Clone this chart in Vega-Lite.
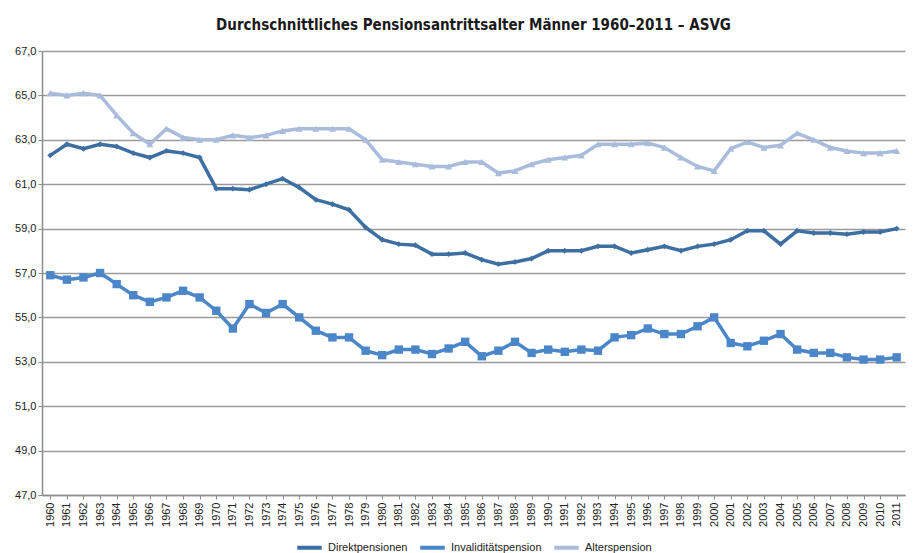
{
  "$schema": "https://vega.github.io/schema/vega-lite/v6.json",
  "autosize": {"type": "none"},
  "width": 863,
  "height": 444,
  "padding": {"left": 42, "top": 51, "right": 12, "bottom": 58},
  "background": "white",
  "title": {
    "text": "Durchschnittliches Pensionsantrittsalter Männer 1960–2011 – ASVG",
    "font": "DejaVu Sans Condensed",
    "fontSize": 15,
    "fontWeight": "bold",
    "color": "#1a1a1a",
    "anchor": "middle",
    "offset": 12
  },
  "data": {"values": [
    {"year": "1960", "series": "Direktpensionen", "value": 62.3},
    {"year": "1961", "series": "Direktpensionen", "value": 62.8},
    {"year": "1962", "series": "Direktpensionen", "value": 62.6},
    {"year": "1963", "series": "Direktpensionen", "value": 62.8},
    {"year": "1964", "series": "Direktpensionen", "value": 62.7},
    {"year": "1965", "series": "Direktpensionen", "value": 62.4},
    {"year": "1966", "series": "Direktpensionen", "value": 62.2},
    {"year": "1967", "series": "Direktpensionen", "value": 62.5},
    {"year": "1968", "series": "Direktpensionen", "value": 62.4},
    {"year": "1969", "series": "Direktpensionen", "value": 62.2},
    {"year": "1970", "series": "Direktpensionen", "value": 60.8},
    {"year": "1971", "series": "Direktpensionen", "value": 60.8},
    {"year": "1972", "series": "Direktpensionen", "value": 60.75},
    {"year": "1973", "series": "Direktpensionen", "value": 61.0},
    {"year": "1974", "series": "Direktpensionen", "value": 61.25},
    {"year": "1975", "series": "Direktpensionen", "value": 60.85},
    {"year": "1976", "series": "Direktpensionen", "value": 60.3},
    {"year": "1977", "series": "Direktpensionen", "value": 60.1},
    {"year": "1978", "series": "Direktpensionen", "value": 59.85},
    {"year": "1979", "series": "Direktpensionen", "value": 59.05},
    {"year": "1980", "series": "Direktpensionen", "value": 58.5},
    {"year": "1981", "series": "Direktpensionen", "value": 58.3},
    {"year": "1982", "series": "Direktpensionen", "value": 58.25},
    {"year": "1983", "series": "Direktpensionen", "value": 57.85},
    {"year": "1984", "series": "Direktpensionen", "value": 57.85},
    {"year": "1985", "series": "Direktpensionen", "value": 57.9},
    {"year": "1986", "series": "Direktpensionen", "value": 57.6},
    {"year": "1987", "series": "Direktpensionen", "value": 57.4},
    {"year": "1988", "series": "Direktpensionen", "value": 57.5},
    {"year": "1989", "series": "Direktpensionen", "value": 57.65},
    {"year": "1990", "series": "Direktpensionen", "value": 58.0},
    {"year": "1991", "series": "Direktpensionen", "value": 58.0},
    {"year": "1992", "series": "Direktpensionen", "value": 58.0},
    {"year": "1993", "series": "Direktpensionen", "value": 58.2},
    {"year": "1994", "series": "Direktpensionen", "value": 58.2},
    {"year": "1995", "series": "Direktpensionen", "value": 57.9},
    {"year": "1996", "series": "Direktpensionen", "value": 58.05},
    {"year": "1997", "series": "Direktpensionen", "value": 58.2},
    {"year": "1998", "series": "Direktpensionen", "value": 58.0},
    {"year": "1999", "series": "Direktpensionen", "value": 58.2},
    {"year": "2000", "series": "Direktpensionen", "value": 58.3},
    {"year": "2001", "series": "Direktpensionen", "value": 58.5},
    {"year": "2002", "series": "Direktpensionen", "value": 58.9},
    {"year": "2003", "series": "Direktpensionen", "value": 58.9},
    {"year": "2004", "series": "Direktpensionen", "value": 58.3},
    {"year": "2005", "series": "Direktpensionen", "value": 58.9},
    {"year": "2006", "series": "Direktpensionen", "value": 58.8},
    {"year": "2007", "series": "Direktpensionen", "value": 58.8},
    {"year": "2008", "series": "Direktpensionen", "value": 58.75},
    {"year": "2009", "series": "Direktpensionen", "value": 58.85},
    {"year": "2010", "series": "Direktpensionen", "value": 58.85},
    {"year": "2011", "series": "Direktpensionen", "value": 59.0},
    {"year": "1960", "series": "Invaliditätspension", "value": 56.9},
    {"year": "1961", "series": "Invaliditätspension", "value": 56.7},
    {"year": "1962", "series": "Invaliditätspension", "value": 56.8},
    {"year": "1963", "series": "Invaliditätspension", "value": 57.0},
    {"year": "1964", "series": "Invaliditätspension", "value": 56.5},
    {"year": "1965", "series": "Invaliditätspension", "value": 56.0},
    {"year": "1966", "series": "Invaliditätspension", "value": 55.7},
    {"year": "1967", "series": "Invaliditätspension", "value": 55.9},
    {"year": "1968", "series": "Invaliditätspension", "value": 56.2},
    {"year": "1969", "series": "Invaliditätspension", "value": 55.9},
    {"year": "1970", "series": "Invaliditätspension", "value": 55.3},
    {"year": "1971", "series": "Invaliditätspension", "value": 54.5},
    {"year": "1972", "series": "Invaliditätspension", "value": 55.6},
    {"year": "1973", "series": "Invaliditätspension", "value": 55.2},
    {"year": "1974", "series": "Invaliditätspension", "value": 55.6},
    {"year": "1975", "series": "Invaliditätspension", "value": 55.0},
    {"year": "1976", "series": "Invaliditätspension", "value": 54.4},
    {"year": "1977", "series": "Invaliditätspension", "value": 54.1},
    {"year": "1978", "series": "Invaliditätspension", "value": 54.1},
    {"year": "1979", "series": "Invaliditätspension", "value": 53.5},
    {"year": "1980", "series": "Invaliditätspension", "value": 53.3},
    {"year": "1981", "series": "Invaliditätspension", "value": 53.55},
    {"year": "1982", "series": "Invaliditätspension", "value": 53.55},
    {"year": "1983", "series": "Invaliditätspension", "value": 53.35},
    {"year": "1984", "series": "Invaliditätspension", "value": 53.6},
    {"year": "1985", "series": "Invaliditätspension", "value": 53.9},
    {"year": "1986", "series": "Invaliditätspension", "value": 53.25},
    {"year": "1987", "series": "Invaliditätspension", "value": 53.5},
    {"year": "1988", "series": "Invaliditätspension", "value": 53.9},
    {"year": "1989", "series": "Invaliditätspension", "value": 53.4},
    {"year": "1990", "series": "Invaliditätspension", "value": 53.55},
    {"year": "1991", "series": "Invaliditätspension", "value": 53.45},
    {"year": "1992", "series": "Invaliditätspension", "value": 53.55},
    {"year": "1993", "series": "Invaliditätspension", "value": 53.5},
    {"year": "1994", "series": "Invaliditätspension", "value": 54.1},
    {"year": "1995", "series": "Invaliditätspension", "value": 54.2},
    {"year": "1996", "series": "Invaliditätspension", "value": 54.5},
    {"year": "1997", "series": "Invaliditätspension", "value": 54.25},
    {"year": "1998", "series": "Invaliditätspension", "value": 54.25},
    {"year": "1999", "series": "Invaliditätspension", "value": 54.6},
    {"year": "2000", "series": "Invaliditätspension", "value": 55.0},
    {"year": "2001", "series": "Invaliditätspension", "value": 53.85},
    {"year": "2002", "series": "Invaliditätspension", "value": 53.7},
    {"year": "2003", "series": "Invaliditätspension", "value": 53.95},
    {"year": "2004", "series": "Invaliditätspension", "value": 54.25},
    {"year": "2005", "series": "Invaliditätspension", "value": 53.55},
    {"year": "2006", "series": "Invaliditätspension", "value": 53.4},
    {"year": "2007", "series": "Invaliditätspension", "value": 53.4},
    {"year": "2008", "series": "Invaliditätspension", "value": 53.2},
    {"year": "2009", "series": "Invaliditätspension", "value": 53.1},
    {"year": "2010", "series": "Invaliditätspension", "value": 53.1},
    {"year": "2011", "series": "Invaliditätspension", "value": 53.2},
    {"year": "1960", "series": "Alterspension", "value": 65.1},
    {"year": "1961", "series": "Alterspension", "value": 65.0},
    {"year": "1962", "series": "Alterspension", "value": 65.1},
    {"year": "1963", "series": "Alterspension", "value": 65.0},
    {"year": "1964", "series": "Alterspension", "value": 64.1},
    {"year": "1965", "series": "Alterspension", "value": 63.3},
    {"year": "1966", "series": "Alterspension", "value": 62.8},
    {"year": "1967", "series": "Alterspension", "value": 63.5},
    {"year": "1968", "series": "Alterspension", "value": 63.1},
    {"year": "1969", "series": "Alterspension", "value": 63.0},
    {"year": "1970", "series": "Alterspension", "value": 63.0},
    {"year": "1971", "series": "Alterspension", "value": 63.2},
    {"year": "1972", "series": "Alterspension", "value": 63.1},
    {"year": "1973", "series": "Alterspension", "value": 63.2},
    {"year": "1974", "series": "Alterspension", "value": 63.4},
    {"year": "1975", "series": "Alterspension", "value": 63.5},
    {"year": "1976", "series": "Alterspension", "value": 63.5},
    {"year": "1977", "series": "Alterspension", "value": 63.5},
    {"year": "1978", "series": "Alterspension", "value": 63.5},
    {"year": "1979", "series": "Alterspension", "value": 63.0},
    {"year": "1980", "series": "Alterspension", "value": 62.1},
    {"year": "1981", "series": "Alterspension", "value": 62.0},
    {"year": "1982", "series": "Alterspension", "value": 61.9},
    {"year": "1983", "series": "Alterspension", "value": 61.8},
    {"year": "1984", "series": "Alterspension", "value": 61.8},
    {"year": "1985", "series": "Alterspension", "value": 62.0},
    {"year": "1986", "series": "Alterspension", "value": 62.0},
    {"year": "1987", "series": "Alterspension", "value": 61.5},
    {"year": "1988", "series": "Alterspension", "value": 61.6},
    {"year": "1989", "series": "Alterspension", "value": 61.9},
    {"year": "1990", "series": "Alterspension", "value": 62.1},
    {"year": "1991", "series": "Alterspension", "value": 62.2},
    {"year": "1992", "series": "Alterspension", "value": 62.3},
    {"year": "1993", "series": "Alterspension", "value": 62.8},
    {"year": "1994", "series": "Alterspension", "value": 62.8},
    {"year": "1995", "series": "Alterspension", "value": 62.8},
    {"year": "1996", "series": "Alterspension", "value": 62.85},
    {"year": "1997", "series": "Alterspension", "value": 62.65},
    {"year": "1998", "series": "Alterspension", "value": 62.2},
    {"year": "1999", "series": "Alterspension", "value": 61.8},
    {"year": "2000", "series": "Alterspension", "value": 61.6},
    {"year": "2001", "series": "Alterspension", "value": 62.6},
    {"year": "2002", "series": "Alterspension", "value": 62.9},
    {"year": "2003", "series": "Alterspension", "value": 62.65},
    {"year": "2004", "series": "Alterspension", "value": 62.75},
    {"year": "2005", "series": "Alterspension", "value": 63.3},
    {"year": "2006", "series": "Alterspension", "value": 63.0},
    {"year": "2007", "series": "Alterspension", "value": 62.65},
    {"year": "2008", "series": "Alterspension", "value": 62.5},
    {"year": "2009", "series": "Alterspension", "value": 62.4},
    {"year": "2010", "series": "Alterspension", "value": 62.4},
    {"year": "2011", "series": "Alterspension", "value": 62.5}
  ]},
  "encoding": {
    "x": {
      "field": "year",
      "type": "ordinal",
      "scale": {"type": "point", "padding": 0.5},
      "axis": {
        "title": null,
        "labelAngle": -90,
        "labelAlign": "right",
        "labelBaseline": "middle",
        "labelFont": "Liberation Sans",
        "labelFontSize": 11,
        "labelColor": "#222222",
        "labelPadding": 3,
        "tickSize": 4,
        "tickColor": "#8c8c8c",
        "domainColor": "#8c8c8c",
        "domainWidth": 1.5,
        "grid": false
      }
    },
    "y": {
      "field": "value",
      "type": "quantitative",
      "scale": {"domain": [47, 67], "nice": false, "zero": false},
      "axis": {
        "title": null,
        "values": [47, 49, 51, 53, 55, 57, 59, 61, 63, 65, 67],
        "labelExpr": "replace(format(datum.value, '.1f'), '.', ',')",
        "labelFont": "Liberation Sans",
        "labelFontSize": 11,
        "labelColor": "#222222",
        "labelPadding": 2,
        "tickSize": 4,
        "tickColor": "#8c8c8c",
        "domainColor": "#8c8c8c",
        "domainWidth": 1.5,
        "grid": true,
        "gridColor": "#9a9a9a",
        "gridWidth": 1.3
      }
    }
  },
  "layer": [
    {
      "mark": {"type": "line", "strokeWidth": 3.5},
      "encoding": {
        "color": {
          "field": "series",
          "type": "nominal",
          "scale": {
            "domain": ["Direktpensionen", "Invaliditätspension", "Alterspension"],
            "range": ["#3d6fa3", "#4a86c8", "#a9bcdb"]
          },
          "legend": {
            "title": null,
            "orient": "bottom",
            "direction": "horizontal",
            "symbolType": "stroke",
            "symbolStrokeWidth": 4,
            "symbolSize": 600,
            "labelFont": "Liberation Sans",
            "labelFontSize": 11,
            "labelColor": "#222222",
            "columnPadding": 4,
            "offset": 6
          }
        }
      }
    },
    {
      "mark": {"type": "point", "filled": true, "opacity": 1},
      "encoding": {
        "fill": {
          "condition": [
            {"test": "datum.series === 'Direktpensionen'", "value": "#3d6fa3"},
            {"test": "datum.series === 'Invaliditätspension'", "value": "#4a86c8"}
          ],
          "value": "#a9bcdb"
        },
        "shape": {
          "condition": [
            {"test": "datum.series === 'Direktpensionen'", "value": "diamond"},
            {"test": "datum.series === 'Invaliditätspension'", "value": "square"}
          ],
          "value": "triangle-up"
        },
        "size": {
          "condition": [
            {"test": "datum.series === 'Direktpensionen'", "value": 35},
            {"test": "datum.series === 'Invaliditätspension'", "value": 70}
          ],
          "value": 50
        }
      }
    }
  ],
  "config": {
    "view": {"stroke": null},
    "legend": {"layout": {"bottom": {"anchor": "middle"}}}
  }
}
